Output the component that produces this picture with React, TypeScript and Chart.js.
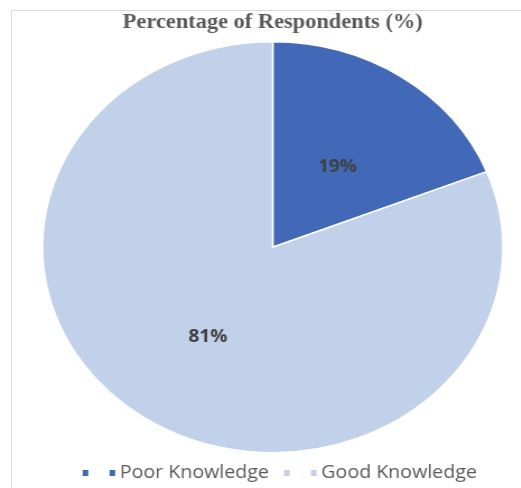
import React, { useEffect, useRef } from "react";
import { Chart, registerables } from "chart.js";

Chart.register(...registerables);

// ---- data ----
const categories = ["Poor Knowledge", "Good Knowledge"];
const percentages = [19, 81];
const sliceColors = ["#4169B7", "#C2D1EA"];
const titleText = "Percentage of Respondents (%)";

// the reference picture is stretched horizontally (elliptical pie)
const STRETCH_X = 1.12;
const CANVAS_W = 487;
const CANVAS_H = 500;
const LEGEND_SHIFT_X = 5;

function makeLegendMarker(color: string): HTMLCanvasElement {
  const c = document.createElement("canvas");
  c.width = 40;
  c.height = 6;
  const ctx = c.getContext("2d")!;
  ctx.fillStyle = color;
  ctx.fillRect(9, 0, 5, 6);
  ctx.fillRect(33, 0, 5, 6);
  return c;
}

const LABEL_FONT_SIZE = 17;

const sliceLabelPlugin = {
  id: "sliceLabels",
  afterLayout(chart: any) {
    if (chart.legend) {
      chart.legend.left += LEGEND_SHIFT_X;
      chart.legend.right += LEGEND_SHIFT_X;
    }
  },
  afterDatasetsDraw(chart: any) {
    const ctx = chart.ctx;
    const meta = chart.getDatasetMeta(0);
    const data = chart.data.datasets[0].data as number[];
    ctx.save();
    ctx.font = `bold ${LABEL_FONT_SIZE}px 'Open Sans'`;
    ctx.fillStyle = "#404040";
    ctx.textAlign = "center";
    ctx.textBaseline = "alphabetic";
    meta.data.forEach((arc: any, i: number) => {
      const p = arc.tooltipPosition(false);
      ctx.fillText(`${data[i]}%`, p.x, p.y + LABEL_FONT_SIZE * 0.55);
    });
    ctx.restore();
  },
};

export default function App() {
  const ref = useRef<HTMLCanvasElement | null>(null);

  useEffect(() => {
    if (!ref.current) return;
    const markers = sliceColors.map(makeLegendMarker);
    const chart = new Chart(ref.current, {
      type: "pie",
      data: {
        labels: categories,
        datasets: [
          {
            data: percentages,
            backgroundColor: sliceColors,
            borderColor: "#ffffff",
            borderWidth: 1.5,
          },
        ],
      },
      options: {
        responsive: false,
        animation: false,
        layout: { padding: { top: 0, bottom: 8, left: 0, right: 0 } },
        plugins: {
          title: {
            display: true,
            text: titleText,
            color: "#595959",
            font: { family: "'Liberation Serif'", size: 20, weight: "bold" },
            padding: { top: 10.5, bottom: 6.5 },
          },
          legend: {
            display: true,
            position: "bottom",
            labels: {
              usePointStyle: true,
              pointStyleWidth: 27,
              padding: 11,
              color: "#595959",
              font: { family: "'Open Sans'", size: 17.5 },
              generateLabels: () =>
                categories.map((c, i) => ({
                  text: c,
                  fillStyle: sliceColors[i],
                  strokeStyle: sliceColors[i],
                  lineWidth: 0,
                  pointStyle: markers[i],
                  hidden: false,
                  index: i,
                  fontColor: "#595959",
                })),
            },
          },
          tooltip: { enabled: false },
        },
      },
      plugins: [sliceLabelPlugin],
    });
    return () => chart.destroy();
  }, []);

  return (
    <>
      <div
        style={{
          position: "fixed",
          left: 11,
          top: 10,
          width: 600,
          height: 600,
          borderTop: "1px solid #d9d9d9",
          borderLeft: "1px solid #d9d9d9",
        }}
      />
      <div
        style={{
          position: "fixed",
          left: 0,
          top: 0,
          width: CANVAS_W,
          height: CANVAS_H,
          transform: `scaleX(${STRETCH_X})`,
          transformOrigin: "0 0",
        }}
      >
        <canvas ref={ref} width={CANVAS_W} height={CANVAS_H} />
      </div>
    </>
  );
}
